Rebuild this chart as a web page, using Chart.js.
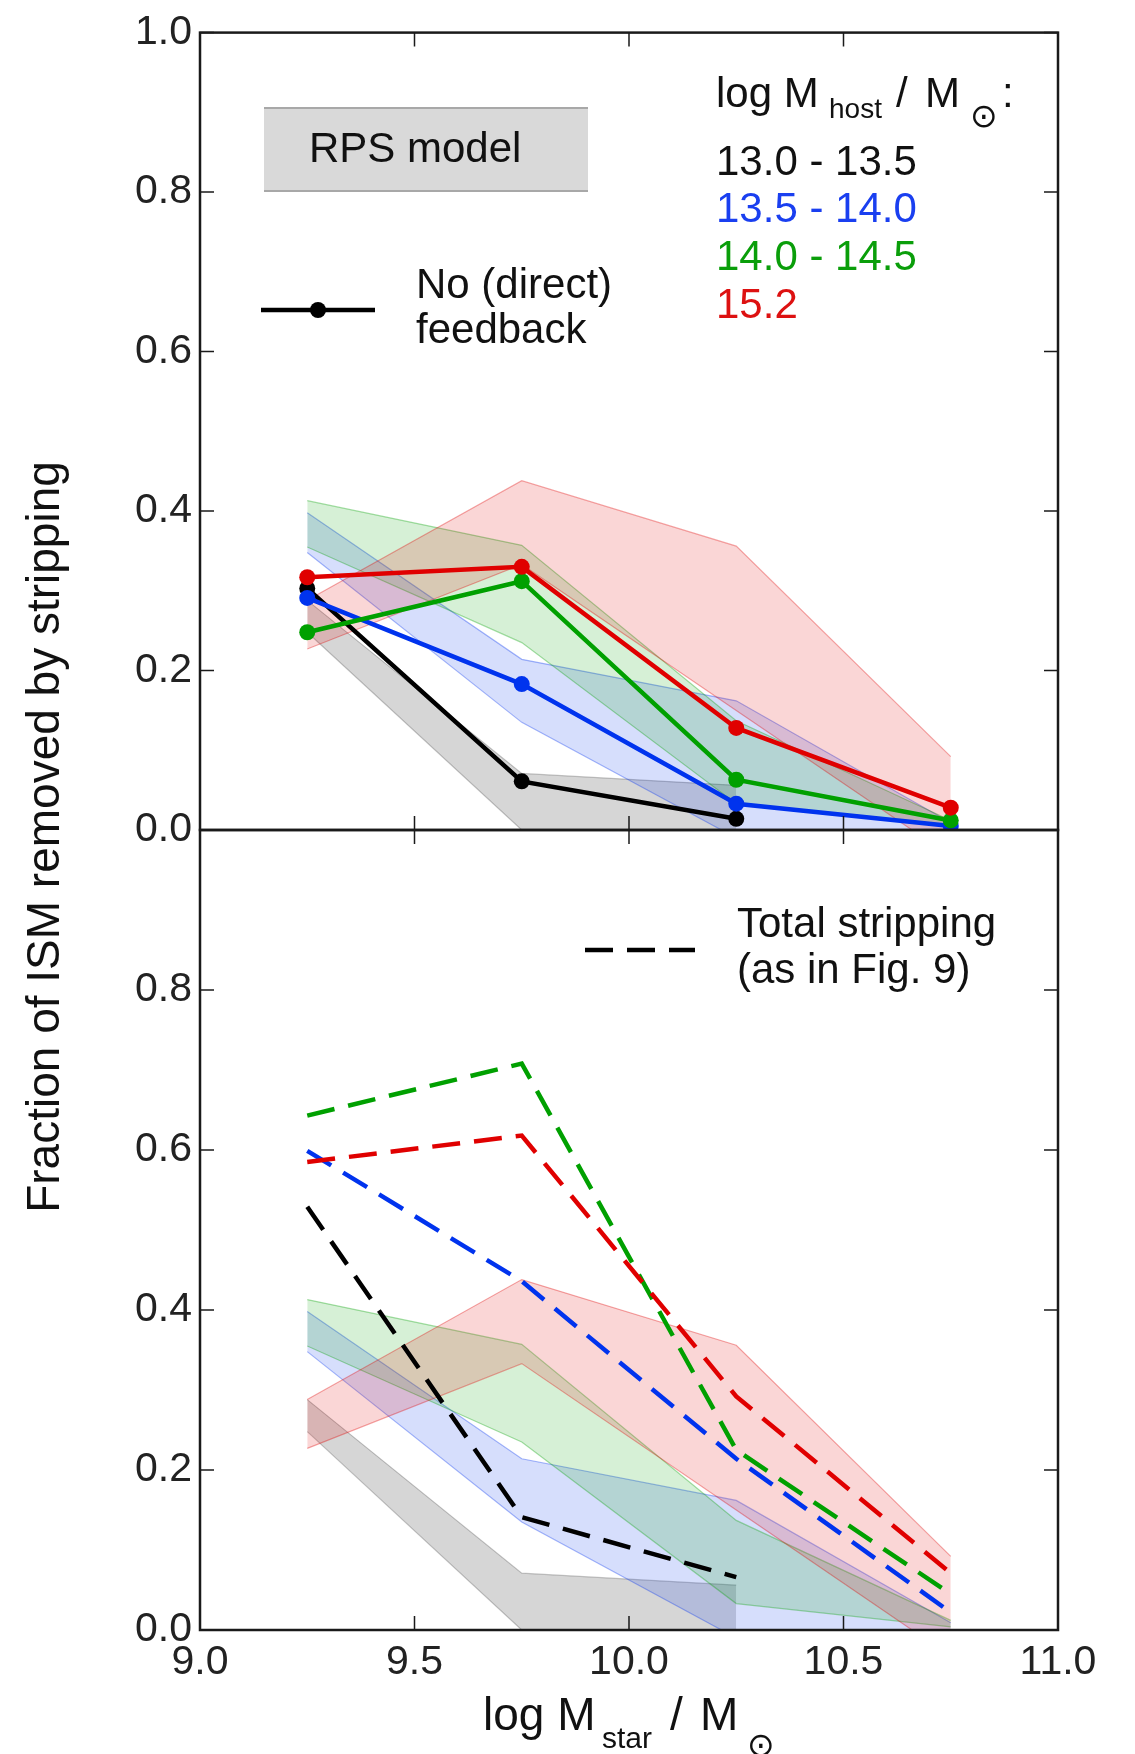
<!DOCTYPE html>
<html>
<head>
<meta charset="utf-8">
<script src="https://cdn.jsdelivr.net/npm/chart.js@4.4.1/dist/chart.umd.min.js"></script>
<style>
  html, body { margin: 0; padding: 0; background: #fff; }
  #wrap { position: relative; width: 1135px; height: 1754px; }
  #wrap canvas { position: absolute; left: 0; top: 0; }
</style>
</head>
<body>
<div id="wrap">
  <canvas id="topPanel" width="1135" height="1754"></canvas>
  <canvas id="bottomPanel" width="1135" height="1754"></canvas>
</div>
<script>
// ---- data ----
const massBins = [9.25, 9.75, 10.25, 10.75];          // log M_star bin centres
const xTickValues = [9.0, 9.5, 10.0, 10.5, 11.0];
const yTickValues = [0.0, 0.2, 0.4, 0.6, 0.8, 1.0];
const hostBins = ['13.0 - 13.5', '13.5 - 14.0', '14.0 - 14.5', '15.2'];

// top panel: no (direct) feedback
const noFb1 = [0.303, 0.061, 0.014, null];
const noFb2 = [0.291, 0.183, 0.033, 0.005];
const noFb3 = [0.248, 0.312, 0.063, 0.012];
const noFb4 = [0.317, 0.330, 0.128, 0.028];

// bottom panel: total stripping (as in Fig. 9)
const total1 = [0.529, 0.141, 0.066, null];
const total2 = [0.599, 0.436, 0.214, 0.022];
const total3 = [0.643, 0.708, 0.225, 0.045];
const total4 = [0.585, 0.618, 0.292, 0.071];

// RPS model ranges (upper / lower), same in both panels
const rps1Hi = [0.288, 0.071, 0.056, null];
const rps1Lo = [0.248, 0.000, 0.000, null];
const rps2Hi = [0.398, 0.214, 0.162, 0.009];
const rps2Lo = [0.348, 0.135, -0.010, 0.000];
const rps3Hi = [0.413, 0.357, 0.137, 0.012];
const rps3Lo = [0.355, 0.235, 0.033, 0.004];
const rps4Hi = [0.288, 0.438, 0.356, 0.092];
const rps4Lo = [0.227, 0.333, 0.150, -0.033];

// ---- styles ----
const FONT = "'Liberation Sans', Arial, 'DejaVu Sans', sans-serif";
const SYMBOL_FONT = "'DejaVu Sans', sans-serif";
const colors = [
  {line: '#000000', fill: 'rgba(0,0,0,0.16)',    edge: 'rgba(0,0,0,0.22)',    text: '#111111'},
  {line: '#0033ee', fill: 'rgba(0,51,238,0.16)', edge: 'rgba(0,51,238,0.35)', text: '#1a3ff0'},
  {line: '#00a000', fill: 'rgba(0,160,0,0.16)',  edge: 'rgba(0,160,0,0.35)',  text: '#0a9e0a'},
  {line: '#e00000', fill: 'rgba(224,0,0,0.16)',  edge: 'rgba(224,0,0,0.35)',  text: '#dd1111'}
];

Chart.defaults.font.family = FONT;
Chart.defaults.color = '#222';

const pts = ys => massBins.map((x, i) => ({x: x, y: ys[i]})).filter(p => p.y !== null);

function bandSets(hi, lo, c, order) {
  return [
    {data: pts(hi), borderColor: c.edge, borderWidth: 1.2, backgroundColor: c.fill,
     fill: '+1', pointRadius: 0, tension: 0, order: order},
    {data: pts(lo), borderColor: c.edge, borderWidth: 1.2, fill: false,
     pointRadius: 0, tension: 0, order: order}
  ];
}

function allBands() {
  return [].concat(
    bandSets(rps4Hi, rps4Lo, colors[3], 11),
    bandSets(rps3Hi, rps3Lo, colors[2], 12),
    bandSets(rps2Hi, rps2Lo, colors[1], 13),
    bandSets(rps1Hi, rps1Lo, colors[0], 14)
  );
}

function solidLine(ys, c, order) {
  return {data: pts(ys), borderColor: c.line, borderWidth: 4.5, fill: false, tension: 0,
          pointRadius: 8, pointBackgroundColor: c.line, pointBorderWidth: 0, order: order};
}
function dashedLine(ys, c, order) {
  return {data: pts(ys), borderColor: c.line, borderWidth: 4.5, borderDash: [28, 14],
          fill: false, tension: 0, pointRadius: 0, order: order};
}

// frame with inward ticks on all four sides
const framePlugin = {
  id: 'frame',
  afterDraw(chart) {
    const ctx = chart.ctx, a = chart.chartArea, sx = chart.scales.x, sy = chart.scales.y;
    ctx.save();
    ctx.strokeStyle = '#1a1a1a';
    ctx.lineWidth = 1.5;
    ctx.beginPath();
    xTickValues.forEach(v => {
      const px = sx.getPixelForValue(v);
      ctx.moveTo(px, a.bottom); ctx.lineTo(px, a.bottom - 14);
      ctx.moveTo(px, a.top); ctx.lineTo(px, a.top + 14);
    });
    yTickValues.forEach(v => {
      const py = sy.getPixelForValue(v);
      ctx.moveTo(a.left, py); ctx.lineTo(a.left + 14, py);
      ctx.moveTo(a.right, py); ctx.lineTo(a.right - 14, py);
    });
    ctx.stroke();
    ctx.lineWidth = 2.5;
    ctx.strokeRect(a.left, a.top, a.right - a.left, a.bottom - a.top);
    ctx.restore();
  }
};

function text(ctx, s, x, y, size, color, family) {
  ctx.font = size + 'px ' + (family || FONT);
  ctx.fillStyle = color;
  ctx.fillText(s, x, y);
}

// legend texts for the top panel
const topNotes = {
  id: 'topNotes',
  afterDraw(chart) {
    const ctx = chart.ctx;
    ctx.save();
    ctx.textBaseline = 'alphabetic';
    ctx.textAlign = 'left';
    // RPS model patch
    ctx.fillStyle = '#d9d9d9';
    ctx.fillRect(264, 108, 324, 83);
    ctx.strokeStyle = '#a8a8a8';
    ctx.lineWidth = 2;
    ctx.beginPath();
    ctx.moveTo(264, 108); ctx.lineTo(588, 108);
    ctx.moveTo(264, 191); ctx.lineTo(588, 191);
    ctx.stroke();
    text(ctx, 'RPS model', 309, 162, 42, '#111');
    // no feedback sample
    ctx.strokeStyle = '#000';
    ctx.lineWidth = 4.5;
    ctx.beginPath(); ctx.moveTo(261, 310); ctx.lineTo(375, 310); ctx.stroke();
    ctx.fillStyle = '#000';
    ctx.beginPath(); ctx.arc(318, 310, 8, 0, Math.PI * 2); ctx.fill();
    text(ctx, 'No (direct)', 416, 298, 42, '#111');
    text(ctx, 'feedback', 416, 343, 42, '#111');
    // host mass legend
    text(ctx, 'log M', 716, 107, 42, '#111');
    text(ctx, 'host', 829, 118, 28, '#111');
    text(ctx, '/', 896, 107, 42, '#111');
    text(ctx, 'M', 925, 107, 42, '#111');
    text(ctx, '\u2299', 970, 127, 33, '#111', SYMBOL_FONT);
    text(ctx, ':', 1002, 107, 42, '#111');
    const baselines = [175, 222, 270, 318];
    hostBins.forEach((lab, i) => text(ctx, lab, 716, baselines[i], 42, colors[i].text));
    ctx.restore();
  }
};

// axis titles and dashed legend for the bottom panel
const bottomNotes = {
  id: 'bottomNotes',
  afterDraw(chart) {
    const ctx = chart.ctx;
    ctx.save();
    ctx.textBaseline = 'alphabetic';
    ctx.textAlign = 'left';
    ctx.strokeStyle = '#000';
    ctx.lineWidth = 4.5;
    ctx.setLineDash([28, 14]);
    ctx.beginPath(); ctx.moveTo(585, 950); ctx.lineTo(695, 950); ctx.stroke();
    ctx.setLineDash([]);
    text(ctx, 'Total stripping', 737, 937, 42, '#111');
    text(ctx, '(as in Fig. 9)', 737, 983, 42, '#111');
    // x title
    text(ctx, 'log M', 483, 1730, 46, '#111');
    text(ctx, 'star', 602, 1748, 30, '#111');
    text(ctx, '/', 670, 1730, 46, '#111');
    text(ctx, 'M', 700, 1730, 46, '#111');
    text(ctx, '\u2299', 747, 1756, 33, '#111', SYMBOL_FONT);
    // y title spanning both panels
    ctx.translate(59, 837);
    ctx.rotate(-Math.PI / 2);
    ctx.textAlign = 'center';
    text(ctx, 'Fraction of ISM removed by stripping', 0, 0, 46, '#111');
    ctx.restore();
  }
};

function scalesFor(showX, hideTopLabel) {
  return {
    x: {
      type: 'linear', min: 9.0, max: 11.0,
      grid: {display: false, drawTicks: false}, border: {display: false},
      ticks: {display: showX, stepSize: 0.5, padding: 8, autoSkip: false, maxRotation: 0,
              font: {size: 41}, color: '#222', callback: v => v.toFixed(1)},
      afterFit: s => { s.height = showX ? 124 : 0; }
    },
    y: {
      type: 'linear', min: 0.0, max: 1.0,
      grid: {display: false, drawTicks: false}, border: {display: false},
      ticks: {stepSize: 0.2, padding: 8, font: {size: 41}, color: '#222',
              callback: v => (hideTopLabel && v > 0.99) ? '' : v.toFixed(1)},
      afterFit: s => { s.width = 200; }
    }
  };
}

const baseOptions = (padding, showX, hideTop) => ({
  responsive: false,
  animation: false,
  layout: {padding: padding},
  plugins: {legend: {display: false}, tooltip: {enabled: false}},
  scales: scalesFor(showX, hideTop)
});

new Chart(document.getElementById('topPanel'), {
  type: 'line',
  data: {
    datasets: [
      solidLine(noFb4, colors[3], 1),
      solidLine(noFb3, colors[2], 2),
      solidLine(noFb2, colors[1], 3),
      solidLine(noFb1, colors[0], 4)
    ].concat(allBands())
  },
  options: baseOptions({top: 30, right: 77, bottom: 924, left: 0}, false, false),
  plugins: [framePlugin, topNotes]
});

new Chart(document.getElementById('bottomPanel'), {
  type: 'line',
  data: {
    datasets: [
      dashedLine(total4, colors[3], 1),
      dashedLine(total3, colors[2], 2),
      dashedLine(total2, colors[1], 3),
      dashedLine(total1, colors[0], 4)
    ].concat(allBands())
  },
  options: baseOptions({top: 830, right: 77, bottom: 0, left: 0}, true, true),
  plugins: [framePlugin, bottomNotes]
});
</script>
</body>
</html>
